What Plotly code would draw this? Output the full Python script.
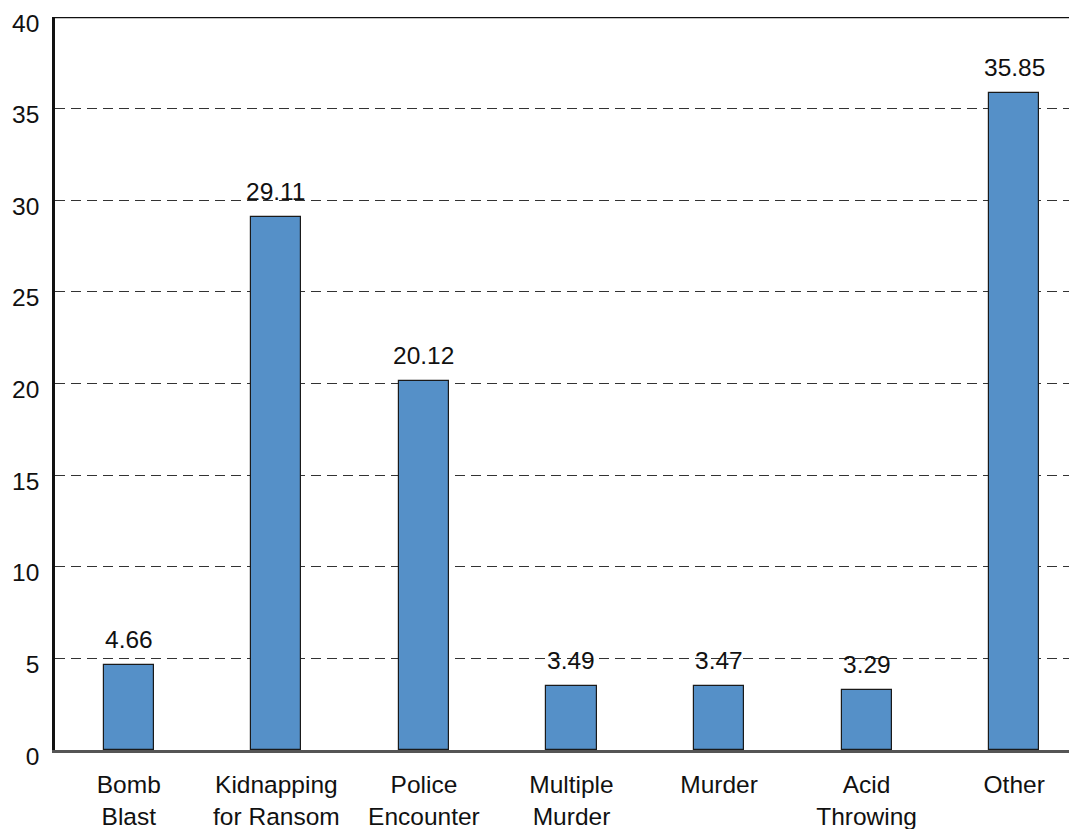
import plotly.graph_objects as go

categories = ["Bomb<br>Blast", "Kidnapping<br>for Ransom", "Police<br>Encounter",
              "Multiple<br>Murder", "Murder", "Acid<br>Throwing", "Other"]
values = [4.66, 29.11, 20.12, 3.49, 3.47, 3.29, 35.85]
y_ticks = [0, 5, 10, 15, 20, 25, 30, 35, 40]

FONT = "Liberation Sans"
FS = 24.5

xs = list(range(len(categories)))
fig = go.Figure(go.Bar(
    x=xs,
    y=values,
    width=0.34,
    marker=dict(color="#5590c8", line=dict(color="#1a1a1a", width=1.2)),
))

for x, v in zip(xs, values):
    fig.add_annotation(x=x, y=v, text=f"{v:.2f}", showarrow=False,
                       yanchor="bottom", yshift=10,
                       font=dict(family=FONT, size=FS, color="#111"))

fig.update_layout(
    width=1077, height=829,
    margin=dict(l=47, r=0, t=9, b=87),
    plot_bgcolor="white", paper_bgcolor="white",
    showlegend=False,
    font=dict(family=FONT, size=FS, color="#111"),
    bargap=0,
)
fig.update_xaxes(
    tickmode="array", tickvals=xs, ticktext=categories,
    range=[-0.5, 6.48], showgrid=False, zeroline=False,
    showline=True, linecolor="#555", linewidth=3,
    ticks="", ticklabelstandoff=11, automargin=False,
    ticklabeloverflow="allow",
    tickfont=dict(family=FONT, size=FS, color="#111"),
)
fig.update_yaxes(
    range=[0, 40], tickvals=y_ticks,
    showgrid=True, gridcolor="#333", griddash="10px,6px", gridwidth=1,
    zeroline=False, showline=True, linecolor="#111", linewidth=2.5,
    ticks="", ticklabelstandoff=8, ticklabelshift=6, automargin=False,
    ticklabeloverflow="allow",
    tickfont=dict(family=FONT, size=FS, color="#111"),
)
fig.add_shape(type="line", xref="paper", yref="y", x0=0, x1=1, y0=40, y1=40,
              line=dict(color="#111", width=2.5))
fig.write_html("out.html")
